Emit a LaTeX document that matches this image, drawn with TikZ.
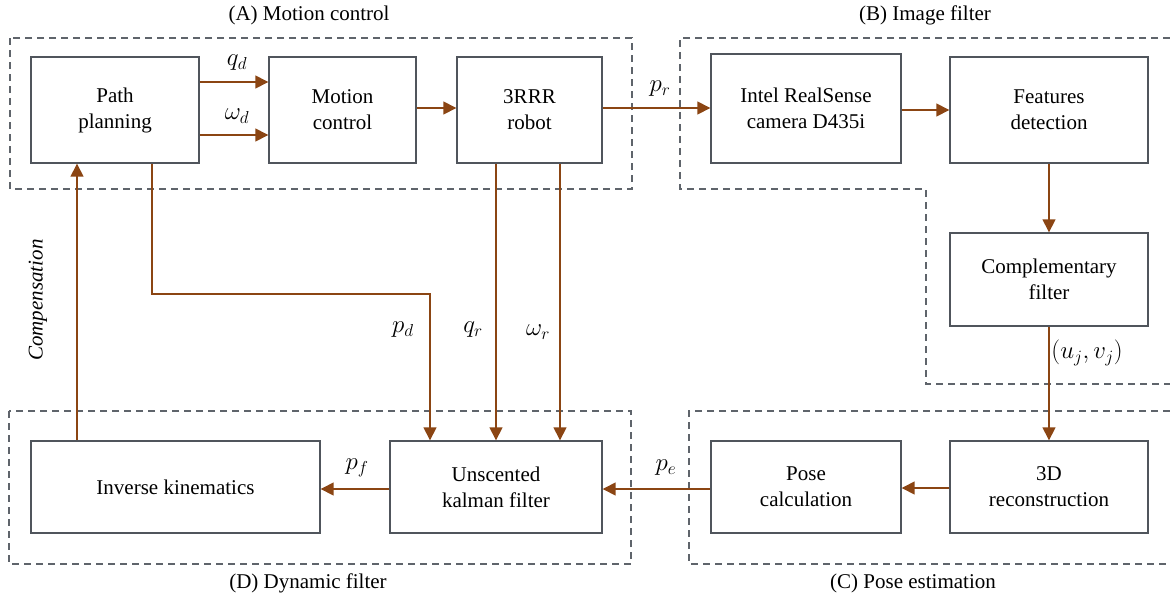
\documentclass[tikz,border=0pt]{standalone}
\usepackage{fontspec}
\setmainfont{Liberation Serif}
\usetikzlibrary{arrows.meta,calc}
\definecolor{brn}{HTML}{8B4513}
\definecolor{bxc}{HTML}{50555C}
\definecolor{dsh}{HTML}{5F646B}
\begin{document}
\begin{tikzpicture}[x=1pt,y=-1pt,
  box/.style={draw=bxc,line width=1.4pt,align=center,inner sep=0pt,font=\fontsize{21}{26}\selectfont},
  arr/.style={draw=brn,line width=1.5pt,-{Triangle[length=13pt,width=13pt]}},
  grp/.style={draw=dsh,line width=1.4pt,dash pattern=on 7pt off 5pt},
  lab/.style={font=\fontsize{21}{24}\selectfont,inner sep=0pt},
  ml/.style={font=\fontsize{25}{26}\selectfont,inner sep=0pt}]
\useasboundingbox (0,0) rectangle (1170,603);

% group frames
\draw[grp] (10,38) rectangle (632,189);
\draw[grp] (1170,38) -- (680,38) -- (680,189) -- (926,189) -- (926,384) -- (1170,384);
\draw[grp] (1170,411) -- (689,411) -- (689,564) -- (1170,564);
\draw[grp] (9,411) rectangle (631,564);

\node[lab] (tA) at (309,15) {(A) Motion control};
\node[lab] (tB) at (925,15) {(B) Image filter};
\node[lab] (tD) at (308,583) {(D) Dynamic filter};
\node[lab] (tC) at (913,583) {(C) Pose estimation};

% blocks
\node[box,minimum width=168pt,minimum height=106pt] (pp) at (115,110) {Path\\planning};
\node[box,minimum width=147pt,minimum height=106pt] (mc) at (342.5,110) {Motion\\control};
\node[box,minimum width=145pt,minimum height=106pt] (rob) at (529.5,110) {3RRR\\robot};
\node[box,minimum width=190pt,minimum height=109pt] (cam) at (806,108.5) {Intel RealSense\\camera D435i};
\node[box,minimum width=198pt,minimum height=106pt] (feat) at (1049,110) {Features\\detection};
\node[box,minimum width=198pt,minimum height=93pt] (comp) at (1049,279.5) {Complementary\\filter};
\node[box,minimum width=198pt,minimum height=92pt] (rec) at (1049,487) {3D\\reconstruction};
\node[box,minimum width=190pt,minimum height=92pt] (pose) at (806,487) {Pose\\calculation};
\node[box,minimum width=212pt,minimum height=92pt] (ukf) at (496,487) {Unscented\\kalman filter};
\node[box,minimum width=289pt,minimum height=92pt] (ik) at (175.5,487) {Inverse kinematics};

% connectors
\draw[arr] ([yshift=28pt]pp.east) -- ([yshift=28pt]mc.west);
\draw[arr] ([yshift=-25pt]pp.east) -- ([yshift=-25pt]mc.west);
\draw[arr] ([yshift=2pt]mc.east) -- ([yshift=2pt]rob.west);
\draw[arr] ([yshift=2pt]rob.east) -- ([yshift=2pt]rob.east -| cam.west);
\draw[arr] (cam.east |- feat.west) -- (feat.west);
\draw[arr] (feat.south) -- (feat.south |- comp.north);
\draw[arr] (comp.south) -- (comp.south |- rec.north);
\draw[arr] ([yshift=-1pt]rec.west) -- ([yshift=-1pt]pose.east);
\draw[arr] ([yshift=-2pt]pose.west) -- ([yshift=-2pt]ukf.east);
\draw[arr] ([yshift=-2pt]ukf.west) -- ([yshift=-2pt]ik.east);
\draw[arr] ([xshift=46.7pt]ik.north west) -- ([xshift=46.7pt]pp.south west);
\coordinate (pdturn) at (430,294);
\draw[arr] ([xshift=37pt]pp.south) |- (pdturn) -- (pdturn |- ukf.north);
\draw[arr] (ukf.north |- rob.south) -- (ukf.north);
\draw[arr] ([xshift=30.5pt]rob.south) -- ([xshift=30.5pt]rob.south |- ukf.north);

% connector labels
\node[ml] (lqd) at (237,63) {$q_d$};
\node[ml] (lwd) at (237,116) {$\omega_d$};
\node[ml] (lpr) at (660,89) {$p_r$};
\node[ml] (lpd) at (403,330) {$p_d$};
\node[ml] (lqr) at (473,330) {$q_r$};
\node[ml] (lwr) at (538,332) {$\omega_r$};
\node[ml] (lpf) at (357,468) {$p_f$};
\node[ml] (lpe) at (666,468) {$p_e$};
\node[ml] (luv) at (1087,353) {$(u_j, v_j)$};
\node[lab,rotate=90,font=\fontsize{21}{24}\selectfont\itshape] (lcomp) at (38,300) {Compensation};
\end{tikzpicture}
\end{document}
